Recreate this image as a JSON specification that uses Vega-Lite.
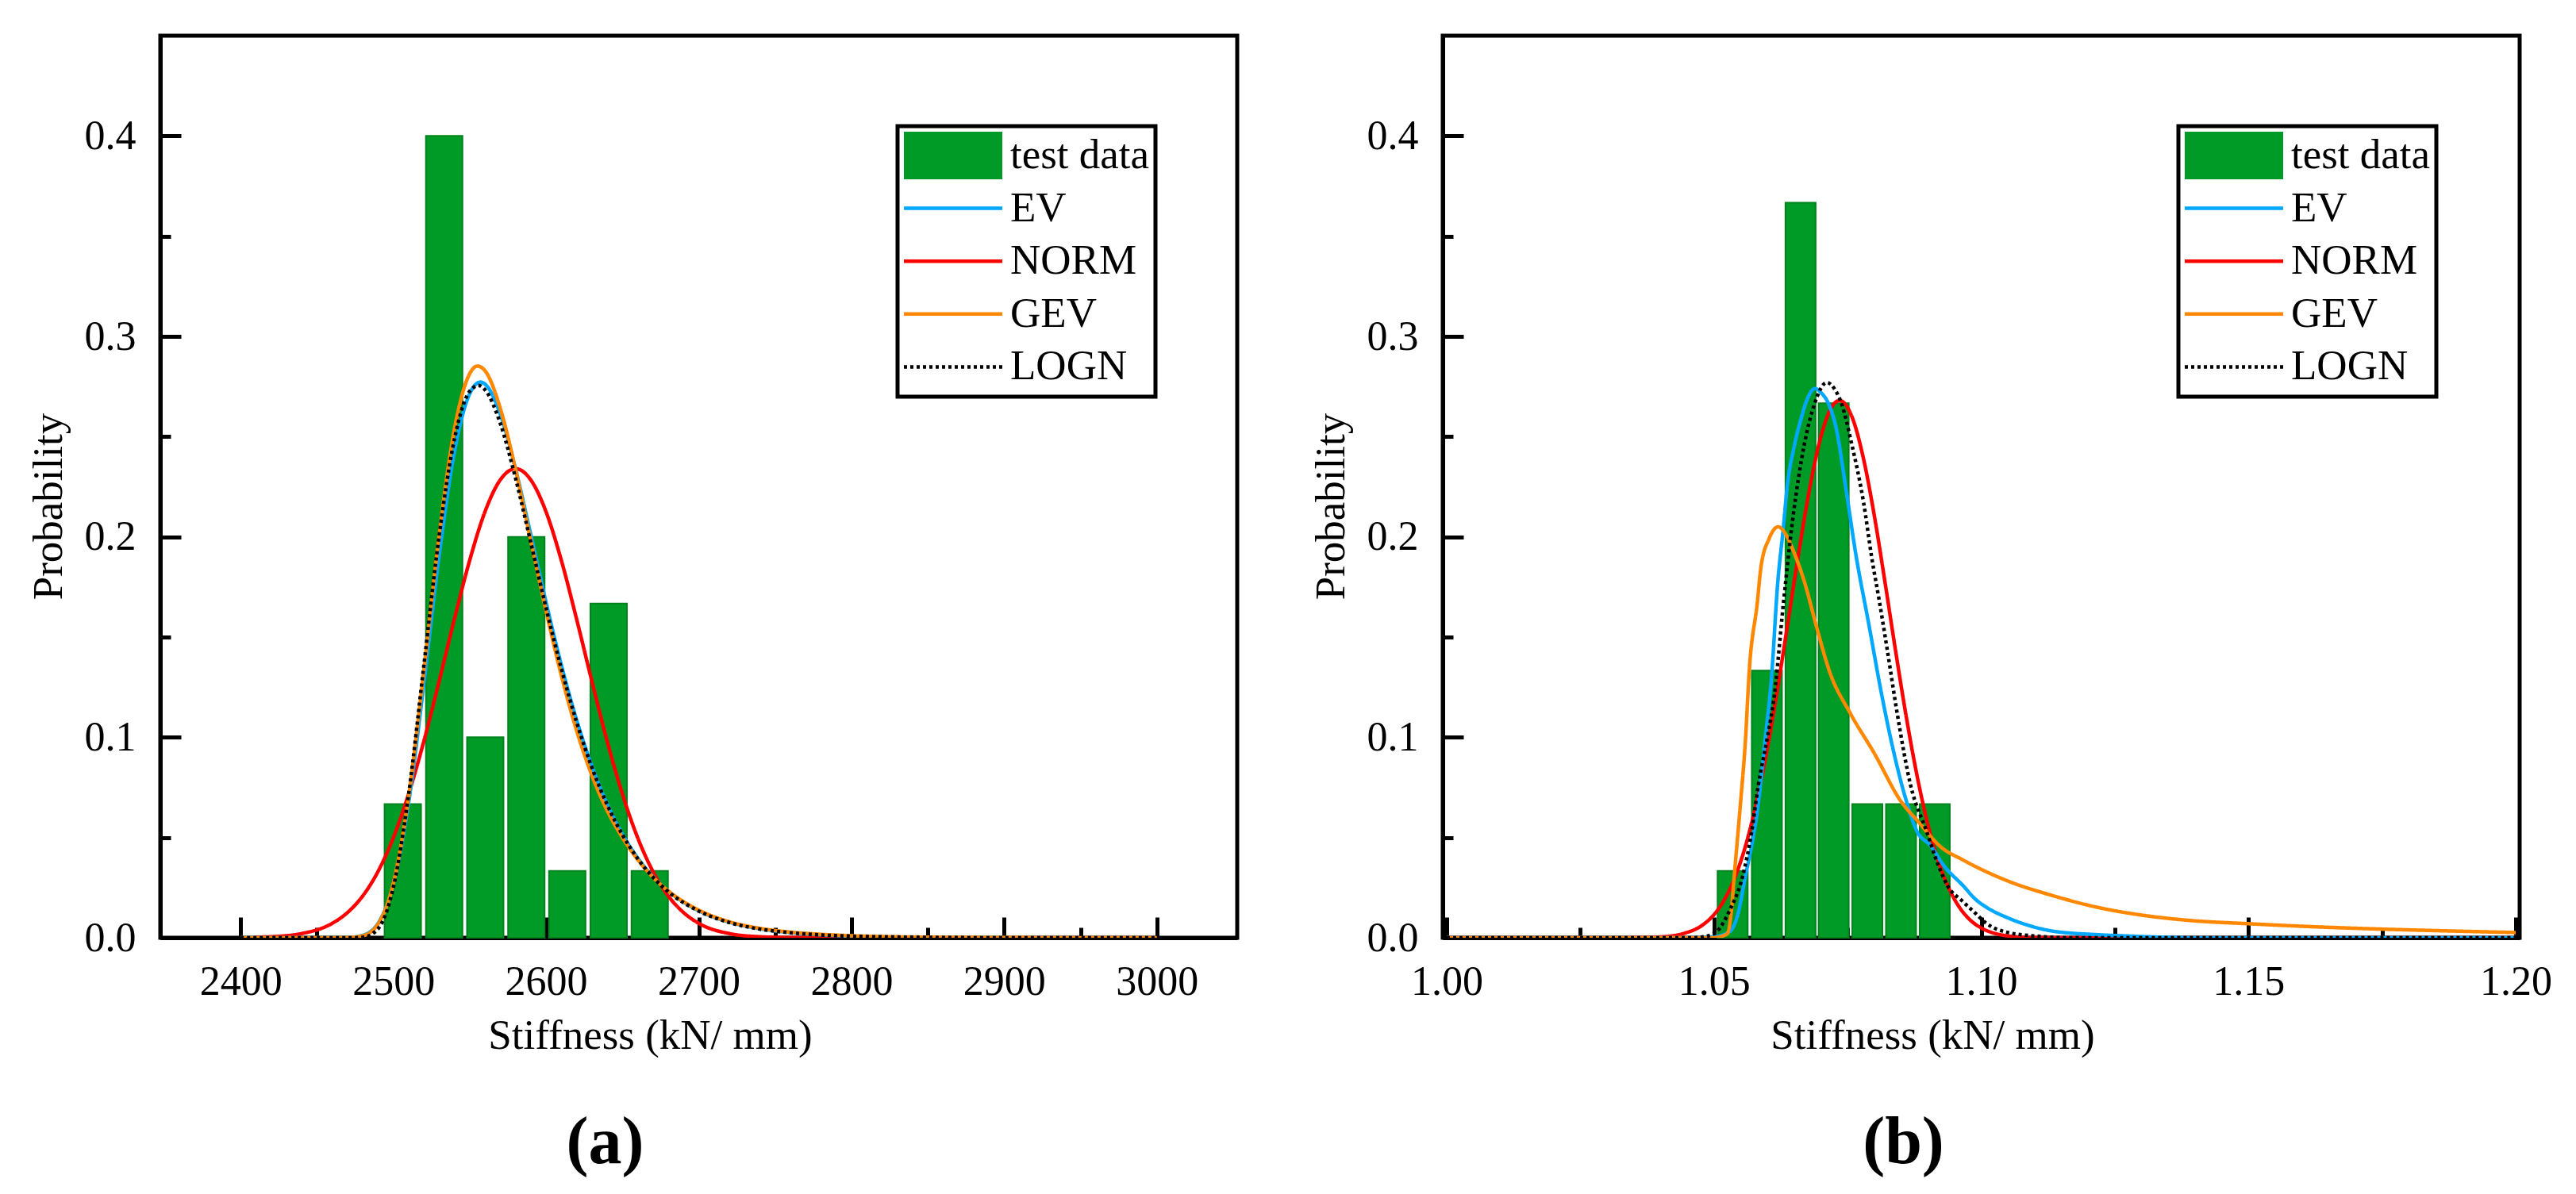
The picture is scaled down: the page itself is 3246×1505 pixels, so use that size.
{
  "$schema": "https://vega.github.io/schema/vega-lite/v6.json",
  "autosize": {"type": "pad"},
  "padding": {"left": 32, "top": 42, "right": 10, "bottom": 5},
  "background": "white",
  "config": {
    "font": "Liberation Serif",
    "view": {"stroke": "black", "strokeWidth": 5},
    "axis": {
      "labelFont": "Liberation Serif", "labelFontSize": 52, "labelColor": "black",
      "titleFont": "Liberation Serif", "titleFontSize": 53, "titleFontWeight": "normal", "titleColor": "black",
      "domainColor": "black", "domainWidth": 5, "tickColor": "black", "tickWidth": 5,
      "grid": false, "labelFlush": false, "labelOverlap": false
    },
    "legend": {
      "labelFont": "Liberation Serif", "labelFontSize": 53, "labelColor": "black", "labelLimit": 400,
      "strokeWidth": 5
    }
  },
  "datasets": {
    "histA": [
      {"x": 2506.2, "p": 0.0667}, {"x": 2533.3, "p": 0.4}, {"x": 2560.2, "p": 0.1},
      {"x": 2587.1, "p": 0.2}, {"x": 2613.9, "p": 0.0333}, {"x": 2641.0, "p": 0.1667}, {"x": 2667.9, "p": 0.0333}
    ],
    "histB": [
      {"x": 1.0535, "p": 0.0333}, {"x": 1.0599, "p": 0.1333}, {"x": 1.0662, "p": 0.3667},
      {"x": 1.0724, "p": 0.2667}, {"x": 1.0787, "p": 0.0667}, {"x": 1.0850, "p": 0.0667}, {"x": 1.0913, "p": 0.0667}
    ],
    "curvesA": [
      {"dist": "NORM", "x": 2410, "p": 0.0003}, {"dist": "NORM", "x": 2420, "p": 0.0005}, {"dist": "NORM", "x": 2440, "p": 0.0021},
      {"dist": "NORM", "x": 2460, "p": 0.0072}, {"dist": "NORM", "x": 2470, "p": 0.0126}, {"dist": "NORM", "x": 2480, "p": 0.0209},
      {"dist": "NORM", "x": 2490, "p": 0.0331}, {"dist": "NORM", "x": 2500, "p": 0.0499}, {"dist": "NORM", "x": 2510, "p": 0.0717},
      {"dist": "NORM", "x": 2520, "p": 0.0981}, {"dist": "NORM", "x": 2530, "p": 0.128}, {"dist": "NORM", "x": 2540, "p": 0.159},
      {"dist": "NORM", "x": 2550, "p": 0.1883}, {"dist": "NORM", "x": 2560, "p": 0.2125}, {"dist": "NORM", "x": 2570, "p": 0.2284},
      {"dist": "NORM", "x": 2580, "p": 0.234}, {"dist": "NORM", "x": 2590, "p": 0.2284}, {"dist": "NORM", "x": 2600, "p": 0.2125},
      {"dist": "NORM", "x": 2610, "p": 0.1883}, {"dist": "NORM", "x": 2620, "p": 0.159}, {"dist": "NORM", "x": 2630, "p": 0.128},
      {"dist": "NORM", "x": 2640, "p": 0.0981}, {"dist": "NORM", "x": 2650, "p": 0.0717}, {"dist": "NORM", "x": 2660, "p": 0.0499},
      {"dist": "NORM", "x": 2670, "p": 0.0331}, {"dist": "NORM", "x": 2680, "p": 0.0209}, {"dist": "NORM", "x": 2690, "p": 0.0126},
      {"dist": "NORM", "x": 2700, "p": 0.0072}, {"dist": "NORM", "x": 2720, "p": 0.0021}, {"dist": "NORM", "x": 2740, "p": 0.0005},
      {"dist": "NORM", "x": 2760, "p": 0.0001}, {"dist": "NORM", "x": 2800, "p": 0},

      {"dist": "EV", "x": 2400, "p": 0}, {"dist": "EV", "x": 2450, "p": 0}, {"dist": "EV", "x": 2470, "p": 0.0001},
      {"dist": "EV", "x": 2480, "p": 0.0012}, {"dist": "EV", "x": 2490, "p": 0.0072}, {"dist": "EV", "x": 2500, "p": 0.0267},
      {"dist": "EV", "x": 2510, "p": 0.0673}, {"dist": "EV", "x": 2520, "p": 0.1268}, {"dist": "EV", "x": 2530, "p": 0.1907},
      {"dist": "EV", "x": 2540, "p": 0.2424}, {"dist": "EV", "x": 2550, "p": 0.2714}, {"dist": "EV", "x": 2557, "p": 0.2772},
      {"dist": "EV", "x": 2560, "p": 0.2762}, {"dist": "EV", "x": 2570, "p": 0.2613}, {"dist": "EV", "x": 2580, "p": 0.234},
      {"dist": "EV", "x": 2590, "p": 0.2011}, {"dist": "EV", "x": 2600, "p": 0.1674}, {"dist": "EV", "x": 2610, "p": 0.1361},
      {"dist": "EV", "x": 2620, "p": 0.1087}, {"dist": "EV", "x": 2630, "p": 0.0857}, {"dist": "EV", "x": 2640, "p": 0.0668},
      {"dist": "EV", "x": 2650, "p": 0.0517}, {"dist": "EV", "x": 2660, "p": 0.0398}, {"dist": "EV", "x": 2670, "p": 0.0305},
      {"dist": "EV", "x": 2680, "p": 0.0233}, {"dist": "EV", "x": 2700, "p": 0.0135}, {"dist": "EV", "x": 2720, "p": 0.0078},
      {"dist": "EV", "x": 2740, "p": 0.0045}, {"dist": "EV", "x": 2760, "p": 0.0026}, {"dist": "EV", "x": 2780, "p": 0.0015},
      {"dist": "EV", "x": 2800, "p": 0.0008}, {"dist": "EV", "x": 2850, "p": 0.0002}, {"dist": "EV", "x": 2900, "p": 0},

      {"dist": "GEV", "x": 2400, "p": 0}, {"dist": "GEV", "x": 2450, "p": 0}, {"dist": "GEV", "x": 2470, "p": 0.0001},
      {"dist": "GEV", "x": 2480, "p": 0.001}, {"dist": "GEV", "x": 2490, "p": 0.0069}, {"dist": "GEV", "x": 2500, "p": 0.0272},
      {"dist": "GEV", "x": 2510, "p": 0.0704}, {"dist": "GEV", "x": 2520, "p": 0.1335}, {"dist": "GEV", "x": 2530, "p": 0.2009},
      {"dist": "GEV", "x": 2540, "p": 0.2537}, {"dist": "GEV", "x": 2550, "p": 0.2814}, {"dist": "GEV", "x": 2555, "p": 0.2852},
      {"dist": "GEV", "x": 2560, "p": 0.2829}, {"dist": "GEV", "x": 2570, "p": 0.2642}, {"dist": "GEV", "x": 2580, "p": 0.2336},
      {"dist": "GEV", "x": 2590, "p": 0.1981}, {"dist": "GEV", "x": 2600, "p": 0.163}, {"dist": "GEV", "x": 2610, "p": 0.1309},
      {"dist": "GEV", "x": 2620, "p": 0.1034}, {"dist": "GEV", "x": 2630, "p": 0.081}, {"dist": "GEV", "x": 2640, "p": 0.0635},
      {"dist": "GEV", "x": 2650, "p": 0.05}, {"dist": "GEV", "x": 2660, "p": 0.039}, {"dist": "GEV", "x": 2670, "p": 0.0302},
      {"dist": "GEV", "x": 2680, "p": 0.0234}, {"dist": "GEV", "x": 2700, "p": 0.0138}, {"dist": "GEV", "x": 2720, "p": 0.008},
      {"dist": "GEV", "x": 2740, "p": 0.0047}, {"dist": "GEV", "x": 2760, "p": 0.0028}, {"dist": "GEV", "x": 2780, "p": 0.0017},
      {"dist": "GEV", "x": 2800, "p": 0.001}, {"dist": "GEV", "x": 2850, "p": 0.0003}, {"dist": "GEV", "x": 2900, "p": 0.0001},
      {"dist": "GEV", "x": 2950, "p": 0}, {"dist": "GEV", "x": 3000, "p": 0},

      {"dist": "LOGN", "x": 2400, "p": 0}, {"dist": "LOGN", "x": 2450, "p": 0}, {"dist": "LOGN", "x": 2470, "p": 0},
      {"dist": "LOGN", "x": 2480, "p": 0.0002}, {"dist": "LOGN", "x": 2490, "p": 0.0045}, {"dist": "LOGN", "x": 2500, "p": 0.0252},
      {"dist": "LOGN", "x": 2510, "p": 0.0714}, {"dist": "LOGN", "x": 2520, "p": 0.136}, {"dist": "LOGN", "x": 2530, "p": 0.2006},
      {"dist": "LOGN", "x": 2540, "p": 0.2487}, {"dist": "LOGN", "x": 2550, "p": 0.2726}, {"dist": "LOGN", "x": 2556, "p": 0.2755},
      {"dist": "LOGN", "x": 2560, "p": 0.2734}, {"dist": "LOGN", "x": 2570, "p": 0.2567}, {"dist": "LOGN", "x": 2580, "p": 0.2293},
      {"dist": "LOGN", "x": 2590, "p": 0.1972}, {"dist": "LOGN", "x": 2600, "p": 0.1646}, {"dist": "LOGN", "x": 2610, "p": 0.1343},
      {"dist": "LOGN", "x": 2620, "p": 0.1076}, {"dist": "LOGN", "x": 2630, "p": 0.085}, {"dist": "LOGN", "x": 2640, "p": 0.0664},
      {"dist": "LOGN", "x": 2650, "p": 0.0514}, {"dist": "LOGN", "x": 2660, "p": 0.0395}, {"dist": "LOGN", "x": 2670, "p": 0.0302},
      {"dist": "LOGN", "x": 2680, "p": 0.023}, {"dist": "LOGN", "x": 2700, "p": 0.0133}, {"dist": "LOGN", "x": 2720, "p": 0.0076},
      {"dist": "LOGN", "x": 2740, "p": 0.0043}, {"dist": "LOGN", "x": 2760, "p": 0.0025}, {"dist": "LOGN", "x": 2780, "p": 0.0014},
      {"dist": "LOGN", "x": 2800, "p": 0.0008}, {"dist": "LOGN", "x": 2850, "p": 0.0002}, {"dist": "LOGN", "x": 2900, "p": 0},
      {"dist": "LOGN", "x": 2950, "p": 0}, {"dist": "LOGN", "x": 3000, "p": 0}
    ],
    "curvesB": [
      {"dist": "NORM", "x": 1.0, "p": 0}, {"dist": "NORM", "x": 1.03, "p": 0}, {"dist": "NORM", "x": 1.036, "p": 0.0001},
      {"dist": "NORM", "x": 1.04, "p": 0.0004}, {"dist": "NORM", "x": 1.044, "p": 0.0019}, {"dist": "NORM", "x": 1.048, "p": 0.0066},
      {"dist": "NORM", "x": 1.05, "p": 0.0115}, {"dist": "NORM", "x": 1.052, "p": 0.0192}, {"dist": "NORM", "x": 1.054, "p": 0.0306},
      {"dist": "NORM", "x": 1.056, "p": 0.0467}, {"dist": "NORM", "x": 1.058, "p": 0.068}, {"dist": "NORM", "x": 1.06, "p": 0.0947},
      {"dist": "NORM", "x": 1.062, "p": 0.126}, {"dist": "NORM", "x": 1.064, "p": 0.1601}, {"dist": "NORM", "x": 1.066, "p": 0.1944},
      {"dist": "NORM", "x": 1.068, "p": 0.2255}, {"dist": "NORM", "x": 1.07, "p": 0.2499}, {"dist": "NORM", "x": 1.072, "p": 0.2646},
      {"dist": "NORM", "x": 1.0735, "p": 0.268}, {"dist": "NORM", "x": 1.076, "p": 0.2586}, {"dist": "NORM", "x": 1.078, "p": 0.2387},
      {"dist": "NORM", "x": 1.08, "p": 0.2106}, {"dist": "NORM", "x": 1.082, "p": 0.1774}, {"dist": "NORM", "x": 1.084, "p": 0.1428},
      {"dist": "NORM", "x": 1.086, "p": 0.1099}, {"dist": "NORM", "x": 1.088, "p": 0.0808}, {"dist": "NORM", "x": 1.09, "p": 0.0567},
      {"dist": "NORM", "x": 1.092, "p": 0.038}, {"dist": "NORM", "x": 1.094, "p": 0.0244}, {"dist": "NORM", "x": 1.096, "p": 0.0149},
      {"dist": "NORM", "x": 1.098, "p": 0.0087}, {"dist": "NORM", "x": 1.1, "p": 0.0049}, {"dist": "NORM", "x": 1.102, "p": 0.0026},
      {"dist": "NORM", "x": 1.104, "p": 0.0013}, {"dist": "NORM", "x": 1.106, "p": 0.0006}, {"dist": "NORM", "x": 1.11, "p": 0.0001},
      {"dist": "NORM", "x": 1.12, "p": 0}, {"dist": "NORM", "x": 1.2, "p": 0},

      {"dist": "EV", "x": 1.0, "p": 0}, {"dist": "EV", "x": 1.045, "p": 0}, {"dist": "EV", "x": 1.05, "p": 0.0005},
      {"dist": "EV", "x": 1.0529, "p": 0.003}, {"dist": "EV", "x": 1.0545, "p": 0.012}, {"dist": "EV", "x": 1.0559, "p": 0.031},
      {"dist": "EV", "x": 1.0572, "p": 0.048}, {"dist": "EV", "x": 1.0583, "p": 0.067}, {"dist": "EV", "x": 1.0595, "p": 0.097},
      {"dist": "EV", "x": 1.0608, "p": 0.131}, {"dist": "EV", "x": 1.0619, "p": 0.176}, {"dist": "EV", "x": 1.063, "p": 0.205},
      {"dist": "EV", "x": 1.0637, "p": 0.225}, {"dist": "EV", "x": 1.065, "p": 0.245}, {"dist": "EV", "x": 1.0662, "p": 0.258},
      {"dist": "EV", "x": 1.0675, "p": 0.269}, {"dist": "EV", "x": 1.0689, "p": 0.274}, {"dist": "EV", "x": 1.07, "p": 0.272},
      {"dist": "EV", "x": 1.0715, "p": 0.266}, {"dist": "EV", "x": 1.0728, "p": 0.255}, {"dist": "EV", "x": 1.0748, "p": 0.222},
      {"dist": "EV", "x": 1.0765, "p": 0.192}, {"dist": "EV", "x": 1.079, "p": 0.156}, {"dist": "EV", "x": 1.0814, "p": 0.121},
      {"dist": "EV", "x": 1.0836, "p": 0.093}, {"dist": "EV", "x": 1.0858, "p": 0.07}, {"dist": "EV", "x": 1.088, "p": 0.053},
      {"dist": "EV", "x": 1.0905, "p": 0.046}, {"dist": "EV", "x": 1.093, "p": 0.036}, {"dist": "EV", "x": 1.0966, "p": 0.026},
      {"dist": "EV", "x": 1.099, "p": 0.019}, {"dist": "EV", "x": 1.1008, "p": 0.0155}, {"dist": "EV", "x": 1.105, "p": 0.0099},
      {"dist": "EV", "x": 1.1092, "p": 0.0059}, {"dist": "EV", "x": 1.1134, "p": 0.0033}, {"dist": "EV", "x": 1.1219, "p": 0.0015},
      {"dist": "EV", "x": 1.128, "p": 0.0008}, {"dist": "EV", "x": 1.135, "p": 0.0002}, {"dist": "EV", "x": 1.14, "p": 0},
      {"dist": "EV", "x": 1.2, "p": 0},

      {"dist": "GEV", "x": 1.0, "p": 0}, {"dist": "GEV", "x": 1.05, "p": 0}, {"dist": "GEV", "x": 1.0525, "p": 0.002},
      {"dist": "GEV", "x": 1.0532, "p": 0.012}, {"dist": "GEV", "x": 1.0538, "p": 0.031}, {"dist": "GEV", "x": 1.0549, "p": 0.065},
      {"dist": "GEV", "x": 1.0559, "p": 0.099}, {"dist": "GEV", "x": 1.0566, "p": 0.133}, {"dist": "GEV", "x": 1.0581, "p": 0.167},
      {"dist": "GEV", "x": 1.0588, "p": 0.185}, {"dist": "GEV", "x": 1.0603, "p": 0.199}, {"dist": "GEV", "x": 1.062, "p": 0.205},
      {"dist": "GEV", "x": 1.0635, "p": 0.201}, {"dist": "GEV", "x": 1.0647, "p": 0.194}, {"dist": "GEV", "x": 1.0671, "p": 0.176},
      {"dist": "GEV", "x": 1.0691, "p": 0.156}, {"dist": "GEV", "x": 1.0716, "p": 0.133}, {"dist": "GEV", "x": 1.0755, "p": 0.112},
      {"dist": "GEV", "x": 1.08, "p": 0.092}, {"dist": "GEV", "x": 1.085, "p": 0.068}, {"dist": "GEV", "x": 1.0882, "p": 0.058},
      {"dist": "GEV", "x": 1.0924, "p": 0.0454}, {"dist": "GEV", "x": 1.0966, "p": 0.0388}, {"dist": "GEV", "x": 1.105, "p": 0.0283},
      {"dist": "GEV", "x": 1.1134, "p": 0.021}, {"dist": "GEV", "x": 1.1219, "p": 0.0151}, {"dist": "GEV", "x": 1.1303, "p": 0.0112},
      {"dist": "GEV", "x": 1.1387, "p": 0.0087}, {"dist": "GEV", "x": 1.15, "p": 0.007}, {"dist": "GEV", "x": 1.164, "p": 0.0053},
      {"dist": "GEV", "x": 1.175, "p": 0.0043}, {"dist": "GEV", "x": 1.189, "p": 0.0033}, {"dist": "GEV", "x": 1.2, "p": 0.0026},

      {"dist": "LOGN", "x": 1.0, "p": 0}, {"dist": "LOGN", "x": 1.046, "p": 0}, {"dist": "LOGN", "x": 1.049, "p": 0.001},
      {"dist": "LOGN", "x": 1.0505, "p": 0.003}, {"dist": "LOGN", "x": 1.053, "p": 0.014}, {"dist": "LOGN", "x": 1.0554, "p": 0.031},
      {"dist": "LOGN", "x": 1.057, "p": 0.052}, {"dist": "LOGN", "x": 1.0583, "p": 0.076}, {"dist": "LOGN", "x": 1.06, "p": 0.1},
      {"dist": "LOGN", "x": 1.0613, "p": 0.121}, {"dist": "LOGN", "x": 1.063, "p": 0.167}, {"dist": "LOGN", "x": 1.0647, "p": 0.208},
      {"dist": "LOGN", "x": 1.0669, "p": 0.246}, {"dist": "LOGN", "x": 1.0689, "p": 0.267}, {"dist": "LOGN", "x": 1.0711, "p": 0.277},
      {"dist": "LOGN", "x": 1.0725, "p": 0.274}, {"dist": "LOGN", "x": 1.0738, "p": 0.267}, {"dist": "LOGN", "x": 1.0758, "p": 0.246},
      {"dist": "LOGN", "x": 1.078, "p": 0.217}, {"dist": "LOGN", "x": 1.0795, "p": 0.19}, {"dist": "LOGN", "x": 1.081, "p": 0.167},
      {"dist": "LOGN", "x": 1.0824, "p": 0.144}, {"dist": "LOGN", "x": 1.0844, "p": 0.11}, {"dist": "LOGN", "x": 1.0868, "p": 0.076},
      {"dist": "LOGN", "x": 1.0898, "p": 0.053}, {"dist": "LOGN", "x": 1.092, "p": 0.036}, {"dist": "LOGN", "x": 1.0937, "p": 0.026},
      {"dist": "LOGN", "x": 1.0966, "p": 0.018}, {"dist": "LOGN", "x": 1.099, "p": 0.012}, {"dist": "LOGN", "x": 1.1008, "p": 0.0075},
      {"dist": "LOGN", "x": 1.105, "p": 0.0026}, {"dist": "LOGN", "x": 1.111, "p": 0.0007}, {"dist": "LOGN", "x": 1.116, "p": 0},
      {"dist": "LOGN", "x": 1.2, "p": 0}
    ]
  },
  "hconcat": [
    {
      "width": 1357, "height": 1137,
      "title": {"text": "(a)", "orient": "bottom", "anchor": "middle", "frame": "group", "dx": -118, "offset": 68,
                "font": "Liberation Serif", "fontSize": 84, "fontWeight": "bold", "color": "black"},
      "layer": [
        {
          "data": {"name": "histA"},
          "mark": {"type": "bar", "width": 46, "stroke": "#00821c", "strokeWidth": 2, "fill": "#009a26"},
          "encoding": {
            "x": {"field": "x", "type": "quantitative", "scale": {"domain": [2350, 3050], "nice": false, "zero": false},
                  "axis": {"values": [2400, 2500, 2600, 2700, 2800, 2900, 3000], "format": "d", "tickSize": -26, "labelPadding": 56,
                           "title": "Stiffness (kN/ mm)", "titleX": 617, "titlePadding": 16}},
            "y": {"field": "p", "type": "quantitative", "stack": null, "scale": {"domain": [0, 0.45], "nice": false},
                  "axis": {"values": [0, 0.1, 0.2, 0.3, 0.4], "format": ".1f", "tickSize": -26, "labelPadding": 57,
                           "title": "Probability", "titlePadding": 18, "titleY": 593}}
          }
        },
        {
          "data": {"name": "curvesA"},
          "mark": {"type": "line", "interpolate": "monotone", "clip": true},
          "encoding": {
            "x": {"field": "x", "type": "quantitative",
                  "axis": {"orient": "bottom", "values": [2450, 2550, 2650, 2750, 2850, 2950], "tickSize": -13, "labels": false, "domain": false, "title": null}},
            "y": {"field": "p", "type": "quantitative",
                  "axis": {"orient": "left", "values": [0.05, 0.15, 0.25, 0.35], "tickSize": -13, "labels": false, "domain": false, "title": null}},
            "stroke": {"field": "dist", "type": "nominal",
                       "scale": {"domain": ["test data", "EV", "NORM", "GEV", "LOGN"], "range": ["#009a26", "#00a8ff", "#ff0000", "#ff8800", "#000000"]},
                       "legend": {"title": null, "orient": "none", "legendX": 929, "legendY": 114, "padding": 7, "rowPadding": 6.6, "clipHeight": 60,
                                  "symbolType": "M-30,0H94", "symbolSize": 4, "labelOffset": 73, "strokeColor": "black", "fillColor": "white"}},
            "strokeWidth": {"field": "dist", "type": "nominal",
                       "scale": {"type": "ordinal", "domain": ["test data", "EV", "NORM", "GEV", "LOGN"], "range": [60, 4.5, 4.5, 4.5, 4.5]}},
            "strokeDash": {"field": "dist", "type": "nominal",
                       "scale": {"type": "ordinal", "domain": ["test data", "EV", "NORM", "GEV", "LOGN"], "range": [[1, 0], [1, 0], [1, 0], [1, 0], [4, 4]]}}
          }
        }
      ],
      "resolve": {"axis": {"x": "independent", "y": "independent"}}
    },
    {
      "width": 1357, "height": 1137,
      "title": {"text": "(b)", "orient": "bottom", "anchor": "middle", "frame": "group", "dx": -98, "offset": 68,
                "font": "Liberation Serif", "fontSize": 84, "fontWeight": "bold", "color": "black"},
      "layer": [
        {
          "data": {"name": "histB"},
          "mark": {"type": "bar", "width": 38, "stroke": "#00821c", "strokeWidth": 2, "fill": "#009a26"},
          "encoding": {
            "x": {"field": "x", "type": "quantitative", "scale": {"domain": [1.0, 1.2], "nice": false, "zero": false},
                  "axis": {"values": [1.0, 1.05, 1.1, 1.15, 1.2], "format": ".2f", "tickSize": -26, "labelPadding": 56,
                           "title": "Stiffness (kN/ mm)", "titleX": 617, "titlePadding": 16}},
            "y": {"field": "p", "type": "quantitative", "stack": null, "scale": {"domain": [0, 0.45], "nice": false},
                  "axis": {"values": [0, 0.1, 0.2, 0.3, 0.4], "format": ".1f", "tickSize": -26, "labelPadding": 57,
                           "title": "Probability", "titlePadding": 18, "titleY": 593}}
          }
        },
        {
          "data": {"name": "curvesB"},
          "mark": {"type": "line", "interpolate": "monotone", "clip": true},
          "encoding": {
            "x": {"field": "x", "type": "quantitative",
                  "axis": {"orient": "bottom", "values": [1.025, 1.075, 1.125, 1.175], "tickSize": -13, "labels": false, "domain": false, "title": null}},
            "y": {"field": "p", "type": "quantitative",
                  "axis": {"orient": "left", "values": [0.05, 0.15, 0.25, 0.35], "tickSize": -13, "labels": false, "domain": false, "title": null}},
            "stroke": {"field": "dist", "type": "nominal",
                       "scale": {"domain": ["test data", "EV", "NORM", "GEV", "LOGN"], "range": ["#009a26", "#00a8ff", "#ff0000", "#ff8800", "#000000"]},
                       "legend": {"title": null, "orient": "none", "legendX": 927, "legendY": 114, "padding": 7, "rowPadding": 6.6, "clipHeight": 60,
                                  "symbolType": "M-30,0H94", "symbolSize": 4, "labelOffset": 73, "strokeColor": "black", "fillColor": "white"}},
            "strokeWidth": {"field": "dist", "type": "nominal",
                       "scale": {"type": "ordinal", "domain": ["test data", "EV", "NORM", "GEV", "LOGN"], "range": [60, 4.5, 4.5, 4.5, 4.5]}},
            "strokeDash": {"field": "dist", "type": "nominal",
                       "scale": {"type": "ordinal", "domain": ["test data", "EV", "NORM", "GEV", "LOGN"], "range": [[1, 0], [1, 0], [1, 0], [1, 0], [4, 4]]}}
          }
        }
      ],
      "resolve": {"axis": {"x": "independent", "y": "independent"}}
    }
  ],
  "spacing": 86,
  "resolve": {"scale": {"stroke": "independent", "strokeWidth": "independent", "strokeDash": "independent", "x": "independent", "y": "independent"},
              "legend": {"stroke": "independent", "strokeWidth": "independent", "strokeDash": "independent"}}
}
